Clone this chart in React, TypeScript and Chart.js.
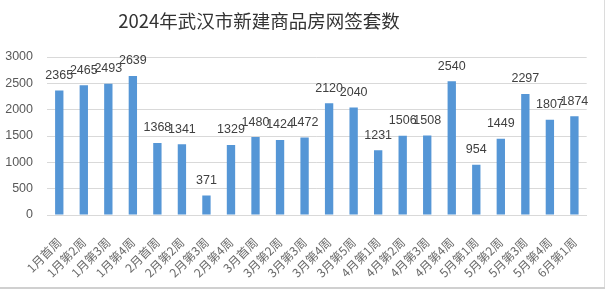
import React, { useEffect, useRef } from "react";
import { Chart, registerables } from "chart.js";

Chart.register(...registerables);

const TITLE = "2024年武汉市新建商品房网签套数";
const categories = [
  "1月首周", "1月第2周", "1月第3周", "1月第4周",
  "2月首周", "2月第2周", "2月第3周", "2月第4周",
  "3月首周", "3月第2周", "3月第3周", "3月第4周", "3月第5周",
  "4月第1周", "4月第2周", "4月第3周", "4月第4周",
  "5月第1周", "5月第2周", "5月第3周", "5月第4周",
  "6月第1周",
];
const values = [
  2365, 2465, 2493, 2639,
  1368, 1341, 371, 1329,
  1480, 1424, 1472, 2120, 2040,
  1231, 1506, 1508, 2540,
  954, 1449, 2297, 1807,
  1874,
];
const yTicks = [0, 500, 1000, 1500, 2000, 2500, 3000];

const labelPlugin = {
  id: "valueLabels",
  afterDatasetsDraw(chart: any) {
    const ctx = chart.ctx;
    const meta = chart.getDatasetMeta(0);
    ctx.save();
    ctx.font = "12.5px 'Liberation Sans', Arial, sans-serif";
    ctx.fillStyle = "#404040";
    ctx.textAlign = "center";
    ctx.textBaseline = "middle";
    meta.data.forEach((bar: any, i: number) => {
      ctx.fillText(String(values[i]), bar.x, bar.y - 15);
    });
    ctx.restore();
  },
  afterDraw(chart: any) {
    const ctx = chart.ctx;
    ctx.save();
    ctx.font = "18.5px 'Noto Sans CJK SC', sans-serif";
    ctx.fillStyle = "#333333";
    ctx.textAlign = "center";
    ctx.textBaseline = "middle";
    ctx.fillText(TITLE, 259, 21);
    ctx.restore();
  },
};

export default function App() {
  const ref = useRef<HTMLCanvasElement>(null);
  useEffect(() => {
    const chart = new Chart(ref.current!, {
      type: "bar",
      data: {
        labels: categories,
        datasets: [
          {
            data: values,
            backgroundColor: "#5596d6",
            barPercentage: 0.34,
            categoryPercentage: 1,
          },
        ],
      },
      options: {
        animation: false,
        responsive: false,
        maintainAspectRatio: false,
        layout: { padding: { top: 57, left: 0, right: 18, bottom: 0 } },
        plugins: { legend: { display: false }, title: { display: false }, tooltip: { enabled: false } },
        scales: {
          x: {
            grid: { display: false, drawTicks: false },
            border: { color: "#d9d9d9", width: 1 },
            ticks: {
              autoSkip: false,
              maxRotation: 45,
              minRotation: 45,
              padding: 20,
              color: "#6a6a6a",
              font: { family: "'Noto Sans CJK SC', sans-serif", size: 12 },
            },
            afterFit(scale: any) {
              scale.height = 76;
            },
          },
          y: {
            min: 0,
            max: 3000,
            afterBuildTicks(scale: any) {
              scale.ticks = yTicks.map((v) => ({ value: v }));
            },
            grid: { color: "#d9d9d9", drawTicks: false },
            border: { display: false },
            ticks: {
              padding: 14,
              color: "#595959",
              font: { family: "'Liberation Sans', Arial, sans-serif", size: 12.5 },
              callback: (v: any) => String(v),
            },
            afterFit(scale: any) {
              scale.width = 47;
            },
          },
        },
      },
      plugins: [labelPlugin],
    });
    return () => chart.destroy();
  }, []);
  return (
    <div style={{ position: "absolute", left: 0, top: 0, width: 605, height: 291, background: "#fff" }}>
      <canvas ref={ref} width={605} height={291} style={{ display: "block" }} />
      <div style={{ position: "absolute", right: 0, top: 0, width: 1, height: 289, background: "#dcdcdc" }} />
      <div style={{ position: "absolute", left: 0, top: 287, width: 605, height: 2, background: "#d0d0d0" }} />
    </div>
  );
}
